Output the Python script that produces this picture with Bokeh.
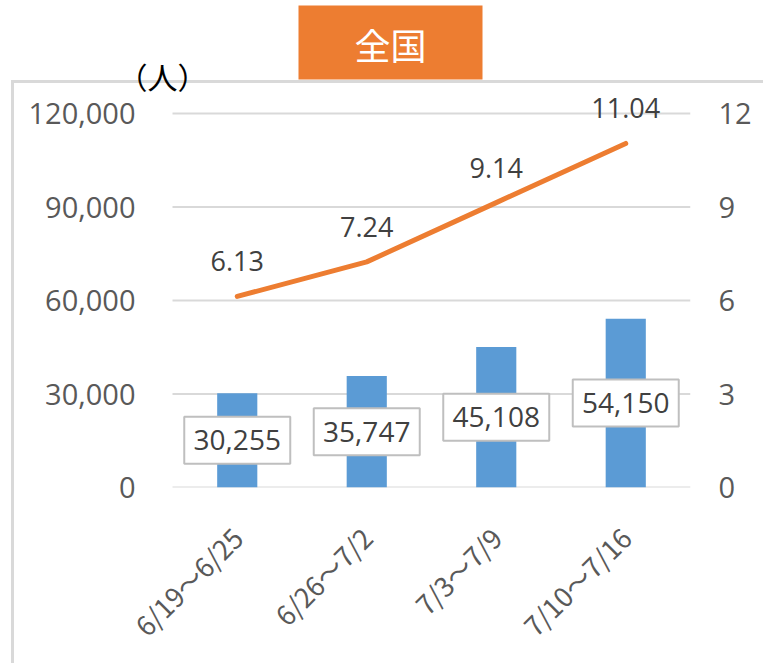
import math
from bokeh.plotting import figure
from bokeh.models import (Range1d, LinearAxis, FixedTicker, NumeralTickFormatter,
                          ColumnDataSource, Label, BoxAnnotation, InlineStyleSheet)
from bokeh.core.properties import value
from bokeh.embed import file_html
from bokeh.resources import INLINE

categories = ["6/19～6/25", "6/26～7/2", "7/3～7/9", "7/10～7/16"]
patients = [30255, 35747, 45108, 54150]
rates = [6.13, 7.24, 9.14, 11.04]
left_ticks = [0, 30000, 60000, 90000, 120000]
right_ticks = [0, 3, 6, 9, 12]
title_text = "全国"
unit_text = "（人）"

BLUE = "#5B9BD5"
ORANGE = "#ED7D31"
GRID = "#D9D9D9"
AXIS_TXT = "#595959"
LBL_TXT = "#404040"
FONT = "Open Sans"
CJK = "Noto Sans CJK JP"

n = len(categories)
xs = [i + 0.5 for i in range(n)]

src = ColumnDataSource(dict(
    x=xs,
    pat=patients,
    mid=[v / 2 for v in patients],
    plabel=[f"{v:,}" for v in patients],
    rate=rates,
    rlabel=[f"{r:.2f}" for r in rates],
))

# layout geometry (pixels): plot frame runs to the canvas top so that the
# heading box and unit label can be drawn inside it
W, H = 763, 663
FRAME_LEFT, FRAME_RIGHT, ZERO_Y = 131, 690, 487
CAT_LEFT = 172
PX_PER_CAT = (FRAME_RIGHT - CAT_LEFT) / n
PX_PER_UNIT = 374 / left_ticks[-1]
y_top = ZERO_Y / PX_PER_UNIT
rate_top = y_top * right_ticks[-1] / left_ticks[-1]

p = figure(width=W, height=H,
           x_range=Range1d(-(CAT_LEFT - FRAME_LEFT) / PX_PER_CAT, n),
           y_range=Range1d(0, y_top), output_backend="svg", toolbar_location=None,
           min_border_left=FRAME_LEFT, min_border_right=W - FRAME_RIGHT,
           min_border_top=0, min_border_bottom=H - ZERO_Y)
p.extra_y_ranges = {"rate": Range1d(0, rate_top)}
p.outline_line_color = None
p.background_fill_color = None
p.border_fill_color = None
p.xgrid.visible = False
p.ygrid.visible = False

# outer chart border (light gray, top and left), drawn beneath the canvas
p.stylesheets = [InlineStyleSheet(css="""
:host { background: white; }
:host::before {
  content: "";
  position: absolute;
  left: 11px; top: 80px; right: -20px; bottom: -20px;
  border-top: 3px solid #D9D9D9;
  border-left: 3px solid #D9D9D9;
  pointer-events: none;
}
""")]

# horizontal gridlines spanning the category area
p.segment(x0=[0] * len(left_ticks), x1=[n] * len(left_ticks), y0=left_ticks, y1=left_ticks,
          line_color=GRID, line_width=2)

# left axis
ax = p.yaxis[0]
ax.ticker = FixedTicker(ticks=left_ticks)
ax.formatter = NumeralTickFormatter(format="0,0")
ax.axis_line_color = None
ax.major_tick_line_color = None
ax.minor_tick_line_color = None
ax.major_tick_out = 0
ax.major_tick_in = 0
ax.major_label_standoff = -4
ax.major_label_text_font = FONT
ax.major_label_text_font_size = "29px"
ax.major_label_text_color = AXIS_TXT

# right axis
rax = LinearAxis(y_range_name="rate", ticker=FixedTicker(ticks=right_ticks))
rax.axis_line_color = None
rax.major_tick_line_color = None
rax.minor_tick_line_color = None
rax.major_tick_out = 0
rax.major_tick_in = 0
rax.major_label_standoff = 28
rax.major_label_text_font = FONT
rax.major_label_text_font_size = "29px"
rax.major_label_text_color = AXIS_TXT
p.add_layout(rax, "right")

# bottom axis
xa = p.xaxis[0]
xa.ticker = FixedTicker(ticks=xs)
xa.major_label_overrides = {x: c for x, c in zip(xs, categories)}
xa.axis_line_color = None
xa.major_tick_line_color = None
xa.minor_tick_line_color = None
xa.major_tick_out = 0
xa.major_tick_in = 0
xa.major_label_orientation = math.pi / 4
xa.major_label_standoff = 45
xa.major_label_text_font = CJK
xa.major_label_text_font_size = "27px"
xa.major_label_text_color = AXIS_TXT

# bars
p.vbar(x="x", top="pat", width=0.31, source=src, fill_color=BLUE, line_color=None)

# bar value boxes
p.rect(x="x", y="mid", width=106, height=47, width_units="screen", height_units="screen",
       source=src, fill_color="white", line_color="#BFBFBF", line_width=2)
p.text(x="x", y="mid", text="plabel", source=src, text_align="center", text_baseline="middle",
       text_font=value(FONT), text_font_size="28px", text_color=LBL_TXT)

# line
p.line(x="x", y="rate", source=src, y_range_name="rate", line_color=ORANGE, line_width=5,
       line_cap="round", line_join="round")
p.text(x="x", y="rate", text="rlabel", source=src, y_range_name="rate", y_offset=-35,
       text_align="center", text_baseline="middle",
       text_font=value(FONT), text_font_size="27px", text_color=LBL_TXT)

# heading box and unit label
p.add_layout(BoxAnnotation(left=298, right=482, top=5, bottom=79,
                           left_units="canvas", right_units="canvas",
                           top_units="canvas", bottom_units="canvas",
                           fill_color=ORANGE, fill_alpha=1.0, line_color=None))
p.add_layout(Label(x=162, y=75, x_units="canvas", y_units="canvas", text=unit_text,
                   text_align="center", text_baseline="middle", text_color="black",
                   text_font=CJK, text_font_size="30px"))
p.add_layout(Label(x=390, y=43, x_units="canvas", y_units="canvas", text=title_text,
                   text_align="center", text_baseline="middle", text_color="white",
                   text_font=CJK, text_font_size="36px"))

open("out.html", "w").write(file_html(p, INLINE))
